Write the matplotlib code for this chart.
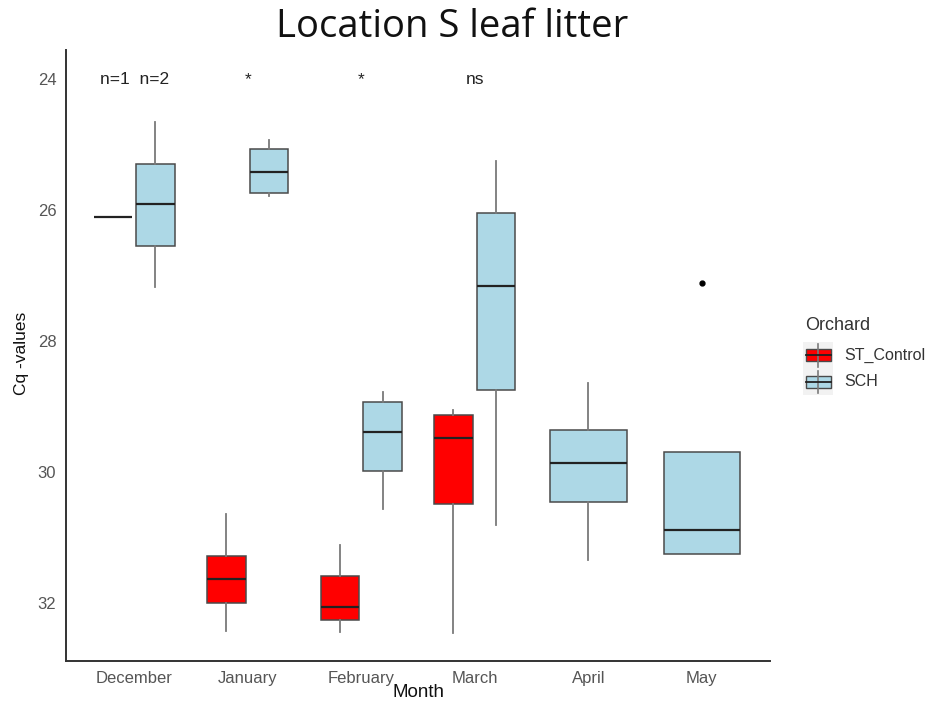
import matplotlib
matplotlib.use("Agg")
import matplotlib.pyplot as plt
from matplotlib.patches import Rectangle
from matplotlib.lines import Line2D

# ---------------- data ----------------
months = ["December", "January", "February", "March", "April", "May"]
groups = ["ST_Control", "SCH"]
colors = {"ST_Control": "#FF0000", "SCH": "#ADD8E6"}

# five-number summaries (whisker low, q1, median, q3, whisker high); None = no data
st_control = [
    (26.10, 26.10, 26.10, 26.10, 26.10),
    (30.64, 31.28, 31.63, 31.99, 32.42),
    (31.11, 31.58, 32.05, 32.25, 32.43),
    (29.04, 29.13, 29.48, 30.48, 32.45),
    None,
    None,
]
sch = [
    (24.65, 25.29, 25.90, 26.54, 27.17),
    (24.92, 25.06, 25.41, 25.74, 25.78),
    (28.77, 28.93, 29.38, 29.98, 30.56),
    (25.24, 26.04, 27.16, 28.74, 30.80),
    (28.63, 29.35, 29.85, 30.45, 31.34),
    (29.69, 29.69, 30.88, 31.24, 31.24),
]
sch_outliers = [[], [], [], [], [], [27.11]]
annotations = ["n=1  n=2", "*", "*", "ns"]
annotation_month = [0, 1, 2, 3]
annotation_y = 24.0

yticks = [24, 26, 28, 30, 32]

# ---------------- figure ----------------
W, H = 933, 701
fig = plt.figure(figsize=(W / 100, H / 100), dpi=100)
ax = fig.add_axes([66 / W, 40 / H, (770 - 66) / W, (651 - 40) / H])

def fx(x):
    return x / W

def fy(y):
    return 1 - y / H

dodge = 0.1875
full_w = 0.675
half_w = 0.3375

edge = "#4a4a4a"
whisk = "#7a7a7a"
sans = "Liberation Sans"

def make_stats(s, fl=None):
    lo, q1, med, q3, hi = s
    return dict(whislo=lo, q1=q1, med=med, q3=q3, whishi=hi, fliers=fl or [])

for gname, data in [("ST_Control", st_control), ("SCH", sch)]:
    for i, s in enumerate(data):
        if s is None:
            continue
        other = sch[i] if gname == "ST_Control" else st_control[i]
        if other is None:
            pos, w = i, full_w
        else:
            pos = i - dodge if gname == "ST_Control" else i + dodge
            w = half_w
        fl = sch_outliers[i] if gname == "SCH" else []
        ax.bxp([make_stats(s, fl)], positions=[pos], widths=[w],
               patch_artist=True, showcaps=False, manage_ticks=False,
               boxprops=dict(facecolor=colors[gname], edgecolor=edge, linewidth=1.1),
               medianprops=dict(color="#222222", linewidth=1.6),
               whiskerprops=dict(color=whisk, linewidth=1.3),
               flierprops=dict(marker="o", markerfacecolor="black",
                               markeredgecolor="black", markersize=3.5))

for txt, x in zip(annotations, annotation_month):
    ax.text(x, annotation_y, txt, ha="center", va="center", fontsize=12.5,
            color="#222222", family=sans)

ax.set_xlim(-0.6, 5.6)
ax.set_ylim(32.88, 23.55)
ax.set_xticks(range(len(months)))
ax.set_xticklabels(months)
ax.set_yticks(yticks)
ax.tick_params(axis="both", length=0, labelsize=12, labelcolor="#555555")
ax.tick_params(axis="y", pad=7)
ax.tick_params(axis="x", pad=7)
for lab in ax.get_xticklabels() + ax.get_yticklabels():
    lab.set_family(sans)
for sp in ["top", "right"]:
    ax.spines[sp].set_visible(False)
for sp in ["left", "bottom"]:
    ax.spines[sp].set_color("#333333")
    ax.spines[sp].set_linewidth(1.4)

fig.text(fx(418), fy(697), "Month", ha="center", va="baseline", fontsize=13.5,
         family=sans, color="#111111")
fig.text(fx(22), fy(353), "Cq -values", ha="center", va="center", rotation=90,
         fontsize=12.5, family=sans, color="#111111")

fig.text(fx(452), fy(27), "Location S leaf litter", ha="center", va="center",
         fontsize=27.5, family="Open Sans", color="#111111")

# ---------------- legend (drawn as a ggplot-style key) ----------------
fig.text(fx(805), fy(326), "Orchard", ha="left", va="center", fontsize=13,
         family=sans, color="#333333")
key_x0, key_x1 = 803, 833
key_top = 342
key_h = 26.5
for k, g in enumerate(groups):
    t = key_top + k * key_h
    cy = t + key_h / 2
    fig.add_artist(Rectangle((fx(key_x0), fy(t + key_h)), fx(key_x1 - key_x0),
                             key_h / H, facecolor="#F2F2F2", edgecolor="none",
                             transform=fig.transFigure))
    cx = (key_x0 + key_x1) / 2
    fig.add_artist(Line2D([fx(cx), fx(cx)], [fy(t + 2), fy(t + key_h - 2)],
                          color=whisk, linewidth=1.2, transform=fig.transFigure))
    fig.add_artist(Rectangle((fx(key_x0 + 2.5), fy(cy + 6)), fx(key_x1 - key_x0 - 5),
                             12 / H, facecolor=colors[g], edgecolor=edge,
                             linewidth=1.0, transform=fig.transFigure))
    fig.add_artist(Line2D([fx(key_x0 + 2.5), fx(key_x1 - 2.5)], [fy(cy), fy(cy)],
                          color="#222222", linewidth=1.3, transform=fig.transFigure))
    fig.text(fx(844), fy(cy), g, ha="left", va="center", fontsize=11.5,
             family=sans, color="#333333")

fig.savefig("out.png", dpi=100)
